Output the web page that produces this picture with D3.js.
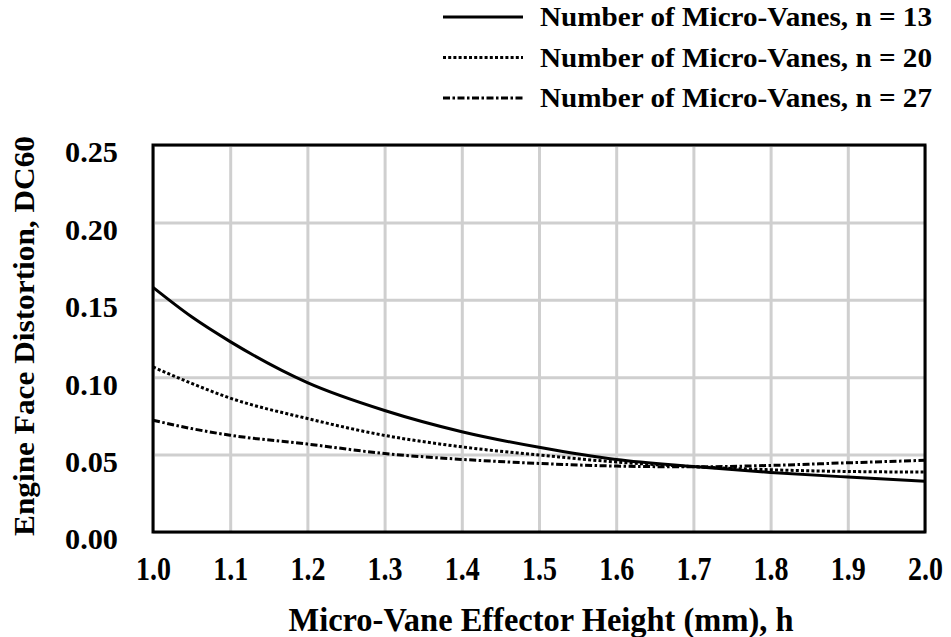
<!DOCTYPE html>
<html>
<head>
<meta charset="utf-8">
<script src="https://cdn.jsdelivr.net/npm/d3@7"></script>
<style>
  html, body { margin: 0; padding: 0; background: #fff; }
  svg { display: block; }
  text { font-family: "Liberation Serif", "Times New Roman", serif; font-weight: bold; fill: #000; }
</style>
</head>
<body>
<svg id="chart" width="951" height="637"></svg>
<script>
// Micro-vane effector height (mm)
const heights = [1.0, 1.05, 1.1, 1.2, 1.3, 1.4, 1.5, 1.6, 1.7, 1.8, 1.9, 2.0];
// DC60 engine face distortion per vane count
const dc60_n13 = [0.158, 0.139, 0.123, 0.0965, 0.0785, 0.0648, 0.0547, 0.0468, 0.0423, 0.0385, 0.0355, 0.0328];
const dc60_n20 = [0.1066, 0.096, 0.0865, 0.0733, 0.0624, 0.0550, 0.0497, 0.0452, 0.0422, 0.0402, 0.0391, 0.0387];
const dc60_n27 = [0.0722, 0.0668, 0.0625, 0.0568, 0.0507, 0.0469, 0.0443, 0.0426, 0.0421, 0.0430, 0.0447, 0.0463];

const seriesNames = ["Number of Micro-Vanes, n = 13", "Number of Micro-Vanes, n = 20", "Number of Micro-Vanes, n = 27"];
const xTicks = [1.0, 1.1, 1.2, 1.3, 1.4, 1.5, 1.6, 1.7, 1.8, 1.9, 2.0];
const yTicks = [0.00, 0.05, 0.10, 0.15, 0.20, 0.25];

const series = [
  { name: seriesNames[0], values: dc60_n13, dash: null },
  { name: seriesNames[1], values: dc60_n20, dash: "3,2.2" },
  { name: seriesNames[2], values: dc60_n27, dash: "7,2.5,2.5,2.5" }
];

const svg = d3.select("#chart");
const margin = { left: 153, top: 145, right: 26, bottom: 105 };
const W = 951 - margin.left - margin.right;
const H = 637 - margin.top - margin.bottom;

const x = d3.scaleLinear().domain([1.0, 2.0]).range([0, W]);
const y = d3.scaleLinear().domain([0, 0.25]).range([H, 0]);

const g = svg.append("g").attr("transform", `translate(${margin.left},${margin.top})`);

// grid lines
const gx = g.append("g")
  .attr("transform", `translate(0,${H})`)
  .call(d3.axisBottom(x).tickValues(xTicks).tickSize(-H).tickFormat(""));
gx.select(".domain").remove();
gx.selectAll("line").attr("stroke", "#cfcfcf").attr("stroke-width", 3);

const gy = g.append("g")
  .call(d3.axisLeft(y).tickValues(yTicks).tickSize(-W).tickFormat(""));
gy.select(".domain").remove();
gy.selectAll("line").attr("stroke", "#cfcfcf").attr("stroke-width", 3);

// tick labels
const yLab = g.append("g")
  .call(d3.axisLeft(y).tickValues(yTicks).tickSize(0).tickPadding(35).tickFormat(d3.format(".2f")));
yLab.select(".domain").remove();
yLab.selectAll("text")
  .attr("font-size", 29).attr("dy", "0.58em")
  .attr("textLength", 53).attr("lengthAdjust", "spacingAndGlyphs")
  .style("font-family", "'Liberation Serif', serif").style("font-weight", "bold");

const xLab = g.append("g")
  .attr("transform", `translate(0,${H})`)
  .call(d3.axisBottom(x).tickValues(xTicks).tickSize(0).tickPadding(24).tickFormat(d3.format(".1f")));
xLab.select(".domain").remove();
xLab.selectAll("text")
  .attr("font-size", 34)
  .attr("textLength", 35).attr("lengthAdjust", "spacingAndGlyphs")
  .style("font-family", "'Liberation Serif', serif").style("font-weight", "bold");

// curves
const line = d3.line()
  .x((d, i) => x(heights[i]))
  .y(d => y(d))
  .curve(d3.curveMonotoneX);

series.forEach(s => {
  g.append("path")
    .datum(s.values)
    .attr("fill", "none")
    .attr("stroke", "#000")
    .attr("stroke-width", 3)
    .attr("stroke-dasharray", s.dash)
    .attr("d", line);
});

// plot frame
g.append("rect")
  .attr("x", 0).attr("y", 0).attr("width", W).attr("height", H)
  .attr("fill", "none").attr("stroke", "#000").attr("stroke-width", 3);

// axis titles
svg.append("text")
  .attr("x", 541).attr("y", 631)
  .attr("text-anchor", "middle")
  .attr("font-size", 33)
  .attr("textLength", 505).attr("lengthAdjust", "spacingAndGlyphs")
  .text("Micro-Vane Effector Height (mm), h");

svg.append("text")
  .attr("transform", "translate(34,336) rotate(-90)")
  .attr("text-anchor", "middle")
  .attr("font-size", 30)
  .attr("textLength", 400).attr("lengthAdjust", "spacingAndGlyphs")
  .text("Engine Face Distortion, DC60");

// legend
const legend = svg.append("g");
series.forEach((s, i) => {
  const cy = 17 + i * 40.5;
  legend.append("line")
    .attr("x1", 443).attr("x2", 523).attr("y1", cy).attr("y2", cy)
    .attr("stroke", "#000").attr("stroke-width", 3)
    .attr("stroke-dasharray", s.dash);
  legend.append("text")
    .attr("x", 540).attr("y", cy + 9)
    .attr("font-size", 27)
    .attr("textLength", 392).attr("lengthAdjust", "spacingAndGlyphs")
    .text(s.name);
});
</script>
</body>
</html>
